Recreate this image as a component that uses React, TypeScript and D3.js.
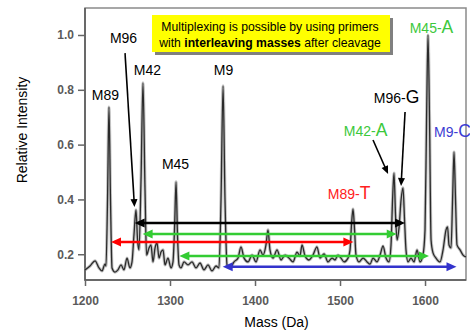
import React, { useRef, useEffect } from 'react';
import * as d3 from 'd3';

const WIDTH = 470;
const HEIGHT = 335;

const xTicks = [1200, 1300, 1400, 1500, 1600];
const yTicks = [0.2, 0.4, 0.6, 0.8, 1.0];

// MALDI trace, [mass (Da), relative intensity]
const spectrum: [number, number][] = [
  [1200, 0.143], [1205.9, 0.157], [1211.8, 0.176], [1216.5, 0.150], [1220, 0.139],
  [1223.5, 0.164], [1224.7, 0.157], [1226.5, 0.398], [1228.2, 0.737], [1230, 0.398],
  [1231.8, 0.150], [1235.3, 0.135], [1238.8, 0.143], [1242.4, 0.161], [1245.9, 0.143],
  [1249.4, 0.186], [1252.9, 0.150], [1255.3, 0.172], [1257.6, 0.270], [1260, 0.362],
  [1261.8, 0.252], [1263.5, 0.216], [1265.9, 0.471], [1268.2, 0.825], [1270.6, 0.435],
  [1272.4, 0.197], [1275.3, 0.223], [1277.6, 0.234], [1280, 0.172], [1282.4, 0.223],
  [1284.7, 0.241], [1287.1, 0.186], [1289.4, 0.208], [1291.8, 0.216], [1294.1, 0.161],
  [1297.6, 0.186], [1301.2, 0.150], [1303.5, 0.172], [1305.3, 0.289], [1307.1, 0.464],
  [1308.8, 0.270], [1310.6, 0.161], [1312.9, 0.150], [1316.5, 0.172], [1321.2, 0.161],
  [1325.9, 0.172], [1330.6, 0.150], [1335.3, 0.168], [1340, 0.143], [1344.7, 0.161],
  [1349.4, 0.139], [1354.1, 0.157], [1357.6, 0.150], [1360, 0.398], [1362.4, 0.814],
  [1364.7, 0.398], [1367.1, 0.161], [1370.6, 0.150], [1375.3, 0.172], [1380, 0.186],
  [1383.5, 0.227], [1387.1, 0.186], [1391.8, 0.172], [1396.5, 0.197], [1401.2, 0.172],
  [1405.9, 0.216], [1409.4, 0.197], [1412.9, 0.234], [1415.3, 0.289], [1417.6, 0.216],
  [1421.2, 0.186], [1425.9, 0.216], [1430.6, 0.179], [1435.3, 0.197], [1440, 0.186],
  [1444.7, 0.172], [1449.4, 0.208], [1452.9, 0.194], [1455.3, 0.234], [1458.8, 0.194],
  [1463.5, 0.179], [1468.2, 0.197], [1472.9, 0.227], [1476.5, 0.186], [1481.2, 0.201],
  [1485.9, 0.172], [1490.6, 0.186], [1494.1, 0.179], [1497.6, 0.197], [1501.2, 0.186],
  [1504.7, 0.172], [1509.4, 0.186], [1511.8, 0.216], [1513.5, 0.307], [1515.3, 0.365],
  [1517.1, 0.289], [1518.8, 0.197], [1522.4, 0.172], [1527.1, 0.186], [1531.8, 0.172],
  [1535.3, 0.164], [1538.8, 0.186], [1543.5, 0.172], [1547.1, 0.197], [1550.6, 0.230],
  [1554.1, 0.186], [1557.6, 0.172], [1560, 0.234], [1561.8, 0.398], [1563.5, 0.496],
  [1565.3, 0.343], [1567.1, 0.252], [1569.4, 0.296], [1571.8, 0.398], [1574.1, 0.442],
  [1575.9, 0.325], [1577.6, 0.216], [1580, 0.172], [1583.5, 0.186], [1587.1, 0.172],
  [1590.6, 0.216], [1594.1, 0.172], [1597.6, 0.197], [1600, 0.289], [1601.8, 0.690],
  [1603.5, 1.0], [1605.3, 0.690], [1607.1, 0.252], [1609.4, 0.205], [1612.9, 0.186],
  [1617.6, 0.172], [1621.2, 0.216], [1624.7, 0.289], [1626.5, 0.300], [1628.2, 0.234],
  [1630.6, 0.223], [1632.4, 0.398], [1634.1, 0.573], [1635.9, 0.398], [1637.6, 0.234],
  [1641.2, 0.216], [1644.7, 0.197], [1648.2, 0.190],
];

// primer labels before extension
const primerLabels = [
  { name: 'M89', mass: 1224.1, level: 0.763 },
  { name: 'M96', mass: 1245.3, level: 0.970 },
  { name: 'M42', mass: 1273.5, level: 0.854 },
  { name: 'M45', mass: 1306.5, level: 0.511 },
  { name: 'M9', mass: 1363, level: 0.854 },
];

// extended products: primer + added base
const productLabels = [
  { name: 'M89-', base: 'T', mass: 1510.6, level: 0.402, color: '#ff2020', anchor: 'middle' },
  { name: 'M42-', base: 'A', mass: 1530, level: 0.630, color: '#3cc83c', anchor: 'middle' },
  { name: 'M96-', base: 'G', mass: 1566.5, level: 0.752, color: '#000000', anchor: 'middle' },
  { name: 'M45-', base: 'A', mass: 1607.6, level: 1.006, color: '#3cc83c', anchor: 'middle' },
  { name: 'M9-', base: 'C', mass: 1610.6, level: 0.629, color: '#3c3cd2', anchor: 'start' },
];

// leader lines from label to peak
const leaders = [
  { m1: 1247.1, v1: 0.934, m2: 1258.2, v2: 0.372 },
  { m1: 1538.8, v1: 0.617, m2: 1556.5, v2: 0.493 },
  { m1: 1576.5, v1: 0.719, m2: 1571.8, v2: 0.449 },
];

// mass shift spans (primer -> product)
const shifts = [
  { from: 1258.4, to: 1576.5, level: 0.314, color: '#000000' },
  { from: 1267.8, to: 1566.7, level: 0.274, color: '#33cc33' },
  { from: 1230.6, to: 1515.7, level: 0.245, color: '#ff0000' },
  { from: 1311, to: 1604.7, level: 0.194, color: '#33cc33' },
  { from: 1362, to: 1637, level: 0.154, color: '#3333cc' },
];

const FONT = '"Liberation Sans", Arial, Helvetica, sans-serif';

const App: React.FC = () => {
  const svgRef = useRef<SVGSVGElement>(null);

  useEffect(() => {
    if (!svgRef.current) return;
    const svg = d3.select(svgRef.current);
    svg.selectAll('*').remove();

    const margin = { top: 8, right: 4, bottom: 55, left: 85 };
    const x = d3.scaleLinear().domain([1200, 1648.2]).range([margin.left, WIDTH - margin.right]);
    const y = d3.scaleLinear().domain([0.106, 1.0985]).range([HEIGHT - margin.bottom, margin.top]);

    // frame
    svg.append('rect')
      .attr('x', x(1200)).attr('y', y(1.0985))
      .attr('width', x(1648.2) - x(1200)).attr('height', y(0.106) - y(1.0985))
      .attr('fill', 'none').attr('stroke', '#8a8a8a').attr('stroke-width', 1.5);
    svg.append('path')
      .attr('d', `M${x(1200)},${y(1.0985)}V${y(0.106)}H${x(1648.2)}`)
      .attr('fill', 'none').attr('stroke', '#555').attr('stroke-width', 1.5);

    // axes
    const yAxis = svg.append('g')
      .attr('transform', `translate(${x(1200)},0)`)
      .call(d3.axisLeft(y).tickValues(yTicks).tickSize(7).tickPadding(4).tickFormat(d3.format('.1f')));
    const xAxis = svg.append('g')
      .attr('transform', `translate(0,${y(0.106)})`)
      .call(d3.axisBottom(x).tickValues(xTicks).tickSize(6).tickPadding(10).tickFormat(d3.format('d')));
    [yAxis, xAxis].forEach(a => {
      a.select('.domain').remove();
      a.selectAll('line').attr('stroke', '#666').attr('stroke-width', 1.5);
      a.selectAll('text')
        .attr('font-family', FONT)
        .attr('font-size', '12px')
        .attr('font-weight', 700)
        .attr('fill', '#5a5a5a');
    });

    // spectrum trace
    const line = d3.line<[number, number]>()
      .x(d => x(d[0]))
      .y(d => y(d[1]))
      .curve(d3.curveMonotoneX);
    svg.append('path').datum(spectrum)
      .attr('d', line).attr('fill', 'none')
      .attr('stroke', '#999').attr('stroke-width', 3.2).attr('stroke-opacity', 0.6)
      .attr('stroke-linejoin', 'round');
    svg.append('path').datum(spectrum)
      .attr('d', line).attr('fill', 'none')
      .attr('stroke', '#2a2a2a').attr('stroke-width', 1.3)
      .attr('stroke-linejoin', 'round');

    // arrow helper
    const head = (tx: number, ty: number, angle: number, len: number, half: number) => {
      const c = Math.cos(angle), s = Math.sin(angle);
      const bx = tx - c * len, by = ty - s * len;
      return `M${tx},${ty}L${bx - s * half},${by + c * half}L${bx + s * half},${by - c * half}Z`;
    };

    // mass shift double arrows
    shifts.forEach(sh => {
      const x1 = x(sh.from), x2 = x(sh.to), yy = y(sh.level);
      svg.append('line')
        .attr('x1', x1 + 6).attr('x2', x2 - 6).attr('y1', yy).attr('y2', yy)
        .attr('stroke', sh.color).attr('stroke-width', 2.5);
      svg.append('path').attr('d', head(x1, yy, Math.PI, 10, 4.5)).attr('fill', sh.color);
      svg.append('path').attr('d', head(x2, yy, 0, 10, 4.5)).attr('fill', sh.color);
    });

    // leader lines
    leaders.forEach(l => {
      const x1 = x(l.m1), y1 = y(l.v1), x2 = x(l.m2), y2 = y(l.v2);
      const ang = Math.atan2(y2 - y1, x2 - x1);
      svg.append('line')
        .attr('x1', x1).attr('y1', y1)
        .attr('x2', x2 - Math.cos(ang) * 6).attr('y2', y2 - Math.sin(ang) * 6)
        .attr('stroke', '#000').attr('stroke-width', 1.6);
      svg.append('path').attr('d', head(x2, y2, ang, 8, 3.5)).attr('fill', '#000');
    });

    // primer labels
    svg.selectAll('.primer')
      .data(primerLabels)
      .enter()
      .append('text')
      .attr('class', 'primer')
      .attr('x', d => x(d.mass))
      .attr('y', d => y(d.level))
      .attr('text-anchor', 'middle')
      .attr('font-family', FONT)
      .attr('font-size', '14px')
      .attr('fill', '#000')
      .text(d => d.name);

    // product labels
    const prod = svg.selectAll('.product')
      .data(productLabels)
      .enter()
      .append('text')
      .attr('class', 'product')
      .attr('x', d => x(d.mass))
      .attr('y', d => y(d.level))
      .attr('text-anchor', d => d.anchor)
      .attr('font-family', FONT)
      .attr('fill', d => d.color);
    prod.append('tspan').attr('font-size', '14px').text(d => d.name);
    prod.append('tspan').attr('font-size', '17.5px').text(d => d.base);

    // note box
    const note = svg.append('g');
    note.append('rect').attr('x', 155).attr('y', 18).attr('width', 238).attr('height', 37).attr('fill', '#808080');
    note.append('rect').attr('x', 152).attr('y', 15).attr('width', 238).attr('height', 37).attr('fill', '#ffff00');
    note.append('text')
      .attr('x', 270).attr('y', 31)
      .attr('text-anchor', 'middle')
      .attr('font-family', FONT).attr('font-size', '12.2px').attr('fill', '#000')
      .text('Multiplexing is possible by using primers');
    const l2 = note.append('text')
      .attr('x', 270).attr('y', 46.5)
      .attr('text-anchor', 'middle')
      .attr('font-family', FONT).attr('font-size', '12.2px').attr('fill', '#000');
    l2.append('tspan').text('with ');
    l2.append('tspan').attr('font-weight', 700).text('interleaving masses');
    l2.append('tspan').text(' after cleavage');

    // axis titles
    svg.append('text')
      .attr('transform', `translate(27,130) rotate(-90)`)
      .attr('text-anchor', 'middle')
      .attr('font-family', FONT).attr('font-size', '14px').attr('fill', '#000')
      .text('Relative Intensity');
    svg.append('text')
      .attr('x', 276.5).attr('y', 327)
      .attr('text-anchor', 'middle')
      .attr('font-family', FONT).attr('font-size', '14px').attr('fill', '#000')
      .text('Mass (Da)');
  }, []);

  return (
    <svg
      ref={svgRef}
      width={WIDTH}
      height={HEIGHT}
      style={{ position: 'absolute', left: 0, top: 0, background: '#fff' }}
    />
  );
};

export default App;
